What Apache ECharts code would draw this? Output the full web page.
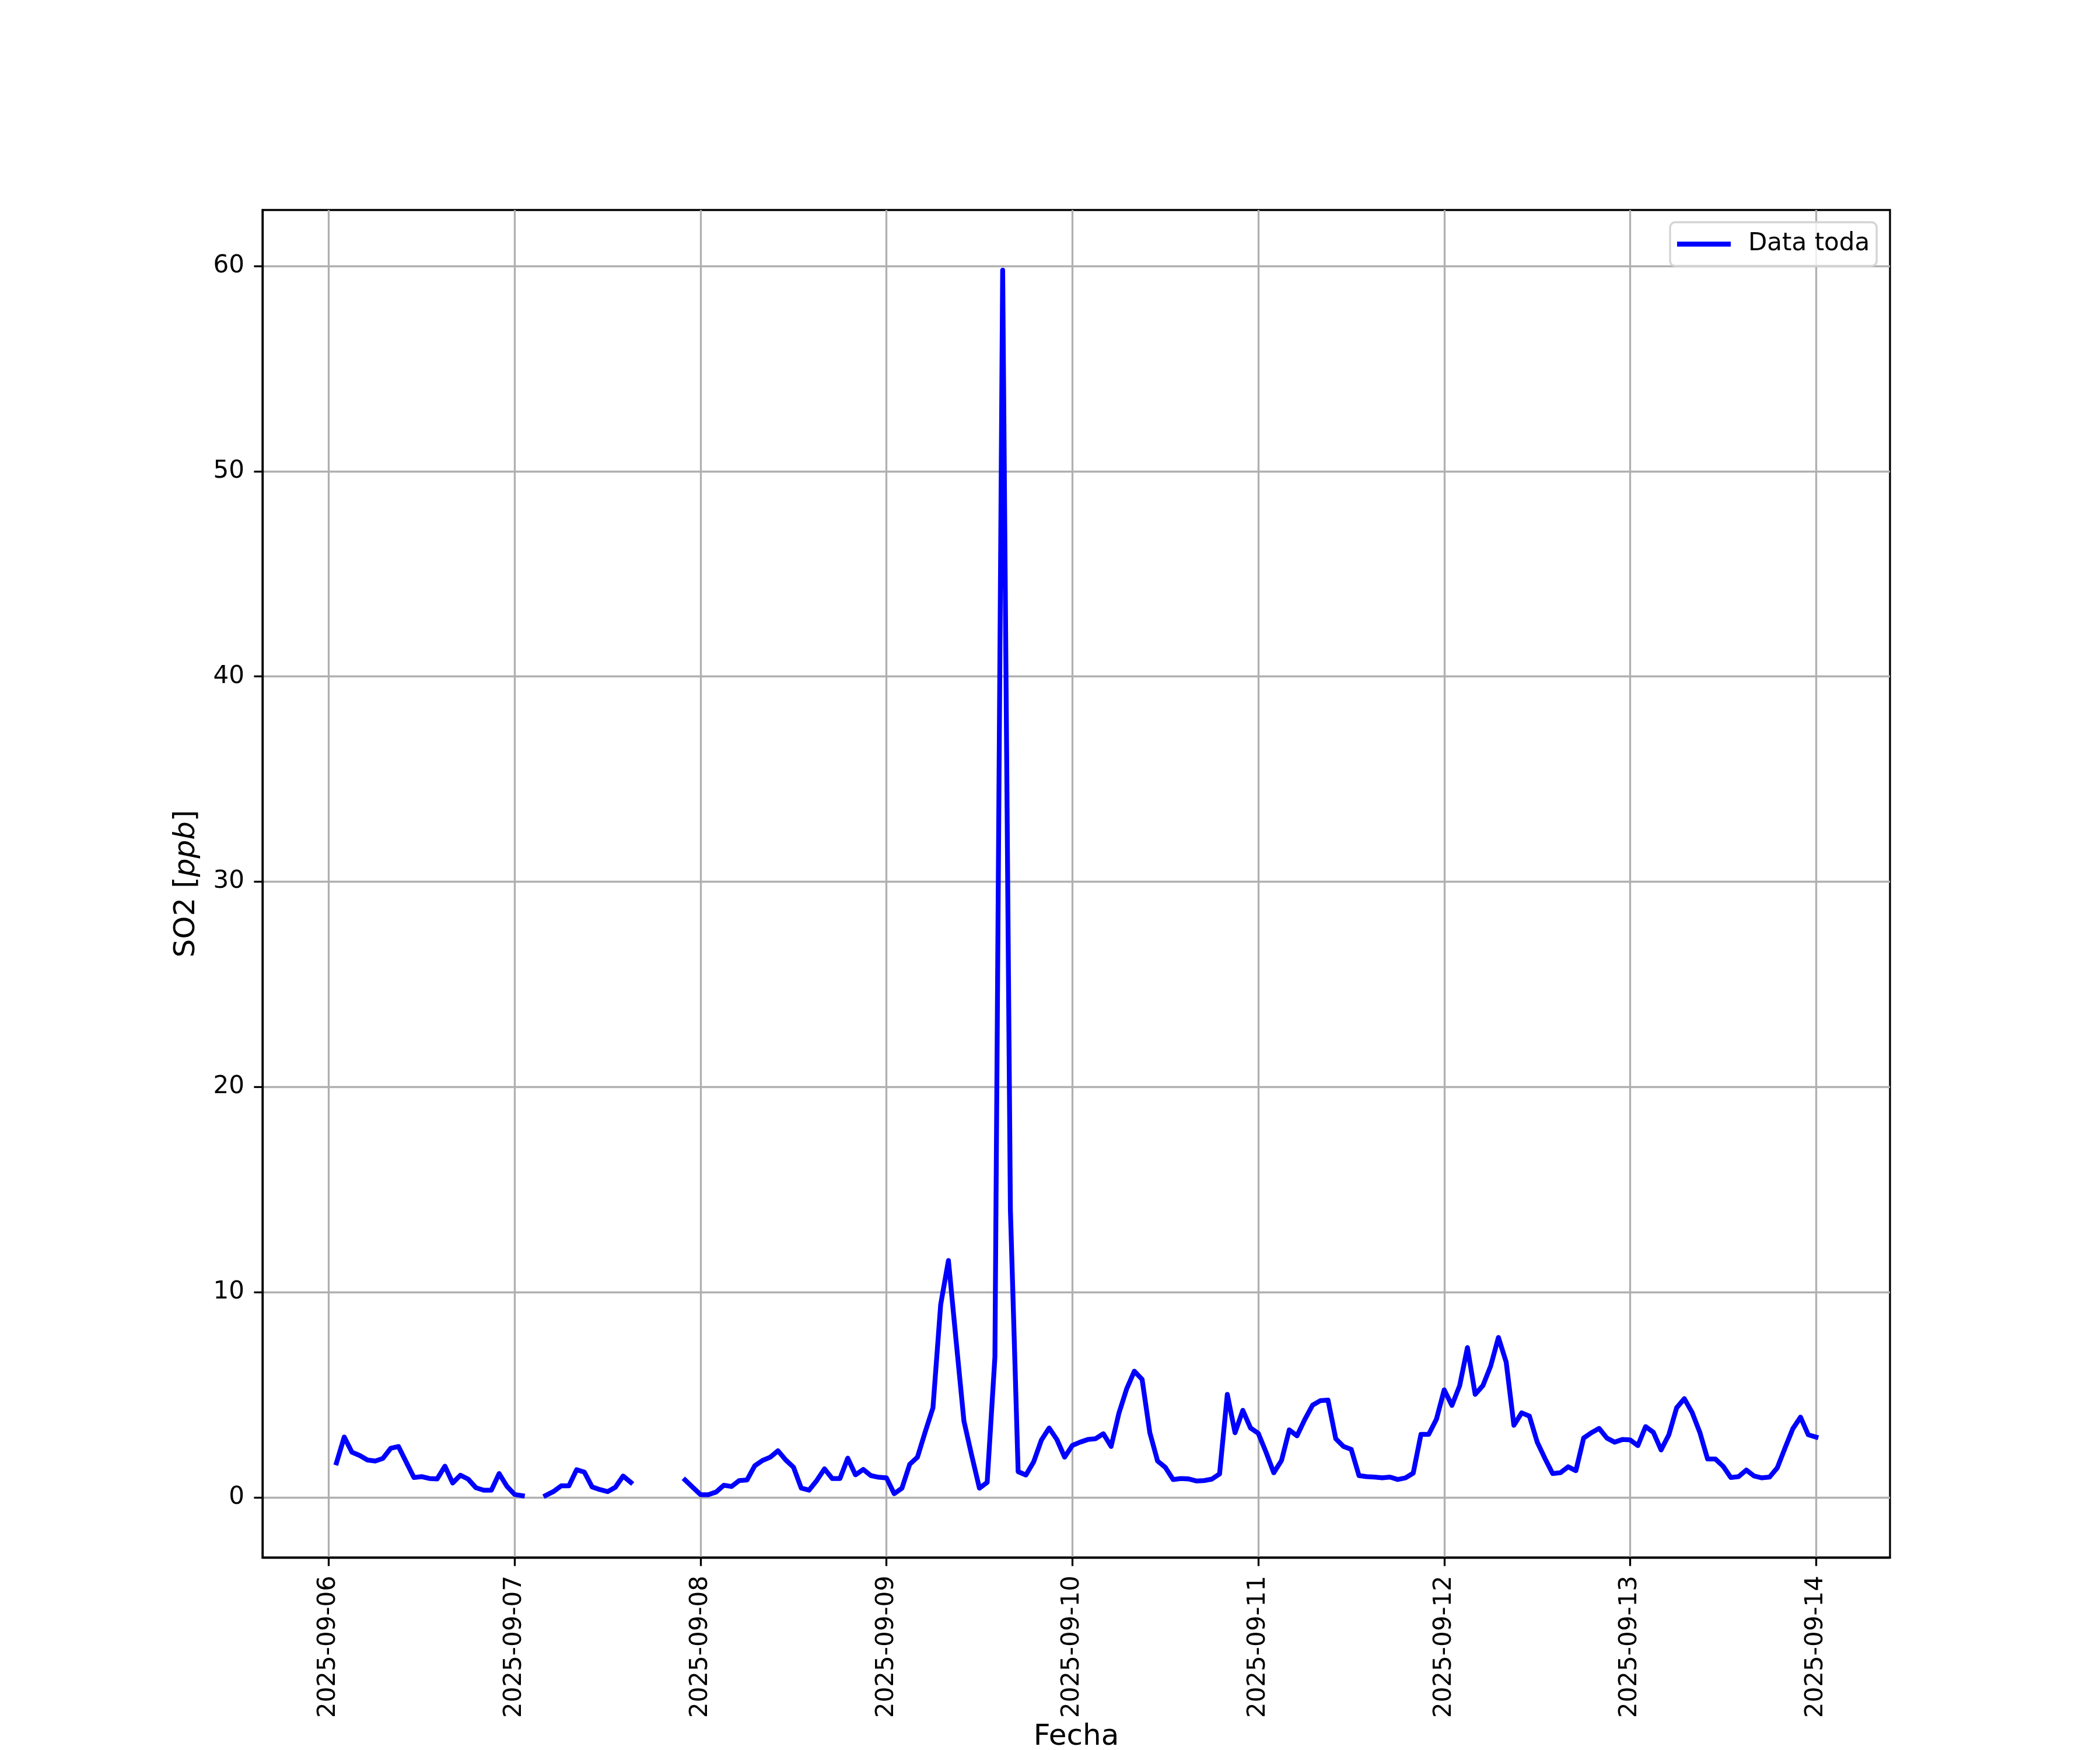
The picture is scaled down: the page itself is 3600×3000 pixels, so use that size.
<!DOCTYPE html>
<html>
<head>
<meta charset="utf-8">
<script src="https://cdn.jsdelivr.net/npm/echarts@6/dist/echarts.min.js"></script>
<style>
html,body{margin:0;padding:0;background:#fff;}
#chart{width:3600px;height:3000px;}
</style>
</head>
<body>
<div id="chart"></div>
<script>
// Hourly SO2 values (ppb); each day array starts at 00:00 UTC; null = missing
var so2_0906 = [null, 1.68, 2.94, 2.20, 2.04, 1.82, 1.77, 1.90, 2.39, 2.48, 1.72, 0.97, 1.01, 0.92, 0.90, 1.52, 0.70, 1.08, 0.89, 0.47, 0.35, 0.35, 1.16, 0.54];
var so2_0907 = [0.14, 0.08, null, null, 0.09, 0.28, 0.56, 0.56, 1.35, 1.23, 0.51, 0.38, 0.28, 0.49, 1.04, 0.73, null, null, null, null, null, null, 0.85, 0.49];
var so2_0908 = [0.13, 0.13, 0.26, 0.59, 0.53, 0.82, 0.85, 1.54, 1.80, 1.96, 2.27, 1.82, 1.47, 0.45, 0.35, 0.82, 1.39, 0.92, 0.92, 1.91, 1.10, 1.36, 1.06, 0.98];
var so2_0909 = [0.95, 0.18, 0.45, 1.61, 1.96, 3.19, 4.36, 9.40, 11.54, 7.60, 3.72, 2.05, 0.45, 0.73, 6.84, 59.8, 14.0, 1.25, 1.09, 1.73, 2.79, 3.38, 2.82, 1.96];
var so2_0910 = [2.53, 2.69, 2.82, 2.86, 3.10, 2.48, 4.09, 5.28, 6.15, 5.75, 3.15, 1.77, 1.46, 0.87, 0.92, 0.90, 0.80, 0.82, 0.89, 1.14, 5.02, 3.15, 4.24, 3.38];
var so2_0911 = [3.12, 2.20, 1.20, 1.80, 3.29, 3.00, 3.79, 4.49, 4.71, 4.74, 2.86, 2.48, 2.34, 1.06, 1.01, 0.99, 0.95, 0.99, 0.87, 0.95, 1.18, 3.07, 3.07, 3.81];
var so2_0912 = [5.24, 4.48, 5.45, 7.30, 5.02, 5.45, 6.40, 7.79, 6.59, 3.51, 4.12, 3.96, 2.70, 1.90, 1.16, 1.20, 1.49, 1.30, 2.89, 3.15, 3.36, 2.89, 2.69, 2.82];
var so2_0913 = [2.80, 2.52, 3.45, 3.17, 2.31, 3.05, 4.36, 4.81, 4.14, 3.17, 1.87, 1.87, 1.52, 0.97, 1.01, 1.33, 1.04, 0.95, 0.99, 1.44, 2.41, 3.34, 3.91, 3.05];
var so2_0914 = [2.94];

var dayLabels = ['2025-09-06', '2025-09-07', '2025-09-08', '2025-09-09', '2025-09-10', '2025-09-11', '2025-09-12', '2025-09-13', '2025-09-14'];
var yTicks = [0, 10, 20, 30, 40, 50, 60];
var seriesName = 'Data toda';

var HOUR = 3600000, DAY = 86400000;
var t0 = Date.UTC(2025, 8, 6, 0, 0, 0);
var all = [].concat(so2_0906, so2_0907, so2_0908, so2_0909, so2_0910, so2_0911, so2_0912, so2_0913, so2_0914);
var data = all.map(function (v, i) { return [t0 + i * HOUR, v]; });
var firstT = t0 + HOUR, lastT = t0 + (all.length - 1) * HOUR;
var pad = (lastT - firstT) * 0.05;
var xTicks = dayLabels.map(function (d, i) { return t0 + i * DAY; });

var FONT = 'DejaVu Sans';
var chart = echarts.init(document.getElementById('chart'), null, {renderer: 'canvas'});
chart.setOption({
  animation: false,
  backgroundColor: '#ffffff',
  textStyle: {fontFamily: FONT},
  grid: {left: 450, top: 360, width: 2790, height: 2310, show: true, borderColor: '#000', borderWidth: 3.3, backgroundColor: 'transparent', outerBoundsMode: 'none'},
  legend: {
    data: [seriesName], left: 2863, top: 381, orient: 'vertical',
    icon: 'rect', itemWidth: 92, itemHeight: 8.3,
    backgroundColor: 'rgba(255,255,255,0.8)', borderColor: '#d4d4d4', borderWidth: 3.3, borderRadius: 9,
    padding: [12, 12, 12, 12],
    textStyle: {fontFamily: FONT, fontSize: 42, color: '#000', lineHeight: 51, padding: [0, 0, 0, 25]}
  },
  xAxis: {
    type: 'value', min: firstT - pad, max: lastT + pad, scale: true,
    name: 'Fecha', nameLocation: 'middle', nameGap: 282,
    nameTextStyle: {fontFamily: FONT, fontSize: 50, color: '#000'},
    axisLine: {show: true, onZero: false, lineStyle: {color: '#000', width: 3.3}},
    axisTick: {show: true, inside: false, length: 14.6, lineStyle: {color: '#000', width: 3.3}, customValues: xTicks},
    axisLabel: {
      show: true, rotate: 90, margin: 31, fontFamily: FONT, fontSize: 42, color: '#000',
      customValues: xTicks, hideOverlap: false, showMinLabel: true, showMaxLabel: true,
      formatter: function (v) { var k = Math.round((v - t0) / DAY); return dayLabels[k] || ''; }
    },
    splitLine: {show: true, lineStyle: {color: '#b0b0b0', width: 3.3}}
  },
  yAxis: {
    type: 'value', min: -2.93, max: 62.73,
    name: 'SO2 [{i|ppb}]', nameLocation: 'middle', nameGap: 105, nameRotate: 90,
    nameTextStyle: {fontFamily: FONT, fontSize: 50, color: '#000', rich: {i: {fontFamily: FONT, fontStyle: 'italic', fontSize: 50, color: '#000'}}},
    axisLine: {show: true, onZero: false, lineStyle: {color: '#000', width: 3.3}},
    axisTick: {show: true, inside: false, length: 14.6, lineStyle: {color: '#000', width: 3.3}, customValues: yTicks},
    axisLabel: {show: true, margin: 31, fontFamily: FONT, fontSize: 42, color: '#000', customValues: yTicks},
    splitLine: {show: true, lineStyle: {color: '#b0b0b0', width: 3.3}}
  },
  series: [{
    name: seriesName, type: 'line', data: data, showSymbol: false, symbol: 'none',
    connectNulls: false, clip: true,
    lineStyle: {color: '#0000ff', width: 8.3, join: 'round', cap: 'square'},
    itemStyle: {color: '#0000ff'}
  }]
});
</script>
</body>
</html>
